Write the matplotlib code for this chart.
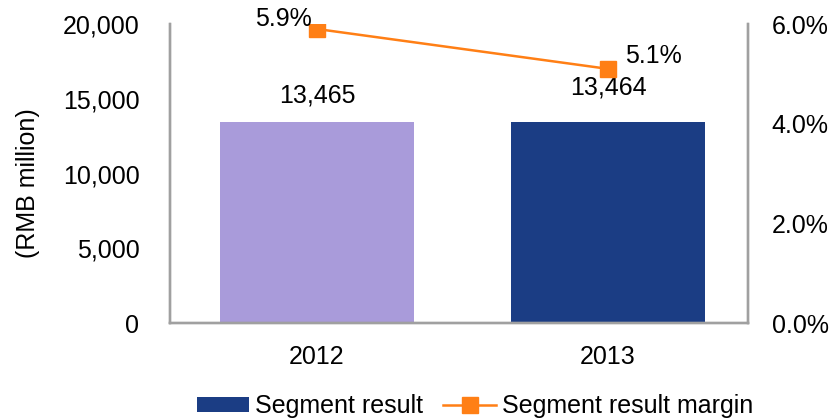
import matplotlib.pyplot as plt
from matplotlib.ticker import FuncFormatter

plt.rcParams['font.family'] = ['Liberation Sans', 'DejaVu Sans']

years = ["2012", "2013"]
segment_result = [13465, 13464]          # RMB million
result_margin = [5.9, 5.1]               # %
bar_colors = ["#A99BDA", "#1B3D84"]
line_color = "#FF7F15"

fig = plt.figure(figsize=(8.36, 4.19), dpi=100)
ax = fig.add_axes([0.2033, 0.229, 0.6914, 0.7137])
ax2 = ax.twinx()

x = range(len(years))
bars = ax.bar(x, segment_result, width=0.667, color=bar_colors, zorder=2)
ax.set_xlim(-0.505, 1.481)
ax.set_ylim(0, 20000)
ax.set_yticks([0, 5000, 10000, 15000, 20000])
ax.yaxis.set_major_formatter(FuncFormatter(lambda v, p: f"{int(v):,}"))
ax.set_xticks(list(x))
ax.set_xticklabels(years)
ax.tick_params(axis="y", length=0, pad=22, labelsize=18)
ax.tick_params(axis="x", length=0, pad=16, labelsize=18)

line, = ax2.plot(x, result_margin, color=line_color, lw=1.8, marker="s",
                 markersize=11, zorder=3)
ax2.set_ylim(0, 6)
ax2.set_yticks([0, 2, 4, 6])
ax2.yaxis.set_major_formatter(FuncFormatter(lambda v, p: f"{v:.1f}%"))
ax2.tick_params(axis="y", length=0, pad=17, labelsize=18)

for a in (ax, ax2):
    a.spines["top"].set_visible(False)
    for s in ("left", "right", "bottom"):
        a.spines[s].set_color("#A0A0A0")
        a.spines[s].set_linewidth(1.7)

# value labels on the bars
bar_offsets = [19, 25]
for b, v, dy in zip(bars, segment_result, bar_offsets):
    ax.annotate(f"{v:,}", (b.get_x() + b.get_width() / 2, v),
                xytext=(0, dy), textcoords="offset points",
                ha="center", va="center", fontsize=18)

# margin labels next to the markers
ax2.annotate(f"{result_margin[0]:.1f}%", (0, result_margin[0]), xytext=(-4, 7),
             textcoords="offset points", ha="right", va="center", fontsize=18)
ax2.annotate(f"{result_margin[1]:.1f}%", (1, result_margin[1]), xytext=(12, 9),
             textcoords="offset points", ha="left", va="center", fontsize=18)

fig.text(28 / 836, 1 - 183 / 419, "(RMB million)", rotation=90,
         ha="center", va="center", fontsize=18)

fig.legend([bars[1], line], ["Segment result", "Segment result margin"],
           loc="center", bbox_to_anchor=(475 / 836, 1 - 406 / 419), ncol=2,
           frameon=False, fontsize=18, handlelength=2.1, handleheight=0.55,
           handletextpad=0.25, columnspacing=0.8, borderpad=0)

fig.savefig("out.png", dpi=100)
